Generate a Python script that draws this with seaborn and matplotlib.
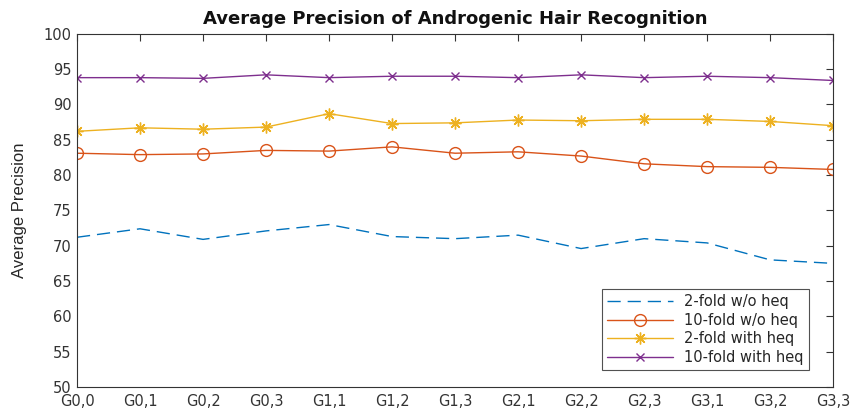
import matplotlib
matplotlib.use("Agg")
import matplotlib.pyplot as plt
import seaborn as sns
import pandas as pd
import numpy as np

categories = ["G0,0", "G0,1", "G0,2", "G0,3", "G1,1", "G1,2", "G1,3",
              "G2,1", "G2,2", "G2,3", "G3,1", "G3,2", "G3,3"]
two_fold_wo_heq = [71.2, 72.4, 70.9, 72.1, 73.0, 71.3, 71.0, 71.5, 69.6, 71.0, 70.4, 68.0, 67.5]
ten_fold_wo_heq = [83.1, 82.9, 83.0, 83.5, 83.4, 84.0, 83.1, 83.3, 82.7, 81.6, 81.2, 81.1, 80.8]
two_fold_with_heq = [86.2, 86.7, 86.5, 86.8, 88.7, 87.3, 87.4, 87.8, 87.7, 87.9, 87.9, 87.6, 87.0]
ten_fold_with_heq = [93.8, 93.8, 93.7, 94.2, 93.8, 94.0, 94.0, 93.8, 94.2, 93.8, 94.0, 93.8, 93.4]

series_names = ["2-fold w/o heq", "10-fold w/o heq", "2-fold with heq", "10-fold with heq"]
series_values = [two_fold_wo_heq, ten_fold_wo_heq, two_fold_with_heq, ten_fold_with_heq]

sns.set_style("white")
plt.rcParams["font.family"] = ["DejaVu Sans"]

fig = plt.figure(figsize=(8.51, 4.13), dpi=100)
ax = fig.add_axes([0.0905, 0.063, 0.8885, 0.855])

colors = ["#0072BD", "#D95319", "#EDB120", "#7E2F8E"]
styles = [dict(marker=None, linestyle=(0, (9.5, 5))),
          dict(marker="o", linestyle="-", markersize=8.5, markerfacecolor="none",
               markeredgecolor=colors[1], markeredgewidth=1.0),
          dict(marker=(8, 2, 0), linestyle="-", markersize=8.5, markeredgewidth=1.0,
               markeredgecolor=colors[2]),
          dict(marker="x", linestyle="-", markersize=6, markeredgewidth=1.0,
               markeredgecolor=colors[3])]

x = np.arange(len(categories))
for name, vals, c, st in zip(series_names, series_values, colors, styles):
    df = pd.DataFrame({"x": x, "y": vals})
    sns.lineplot(data=df, x="x", y="y", ax=ax, color=c, linewidth=1.0,
                 label=name, **st)

ax.set_xlim(0, len(categories) - 1)
ax.set_ylim(50, 100)
ax.set_xticks(x)
ax.set_xticklabels(categories)
ax.set_yticks(np.arange(50, 101, 5))
ax.set_xlabel("")
ax.set_ylabel("Average Precision", fontsize=12,
              family=["Liberation Sans Narrow", "Liberation Sans", "DejaVu Sans"],
              color="#262626", labelpad=12)
ax.set_title("Average Precision of Androgenic Hair Recognition", fontsize=13,
             fontweight="bold", pad=7, color="#111111")

ax.tick_params(axis="both", direction="in", length=5, width=0.8, colors="#333333",
               labelsize=10.5, top=True, right=True)
ax.tick_params(axis="x", pad=5)
ax.tick_params(axis="y", pad=4)
for sp in ax.spines.values():
    sp.set_color("#333333")
    sp.set_linewidth(0.8)

leg = ax.legend(loc="lower right", bbox_to_anchor=(0.968, 0.048), borderaxespad=0,
                fontsize=10.5, frameon=True, fancybox=False, handlelength=4.5,
                handletextpad=0.8, labelspacing=0.25, borderpad=0.35,
                edgecolor="#262626")
leg.get_frame().set_linewidth(0.8)

fig.savefig("out.png", dpi=100)
